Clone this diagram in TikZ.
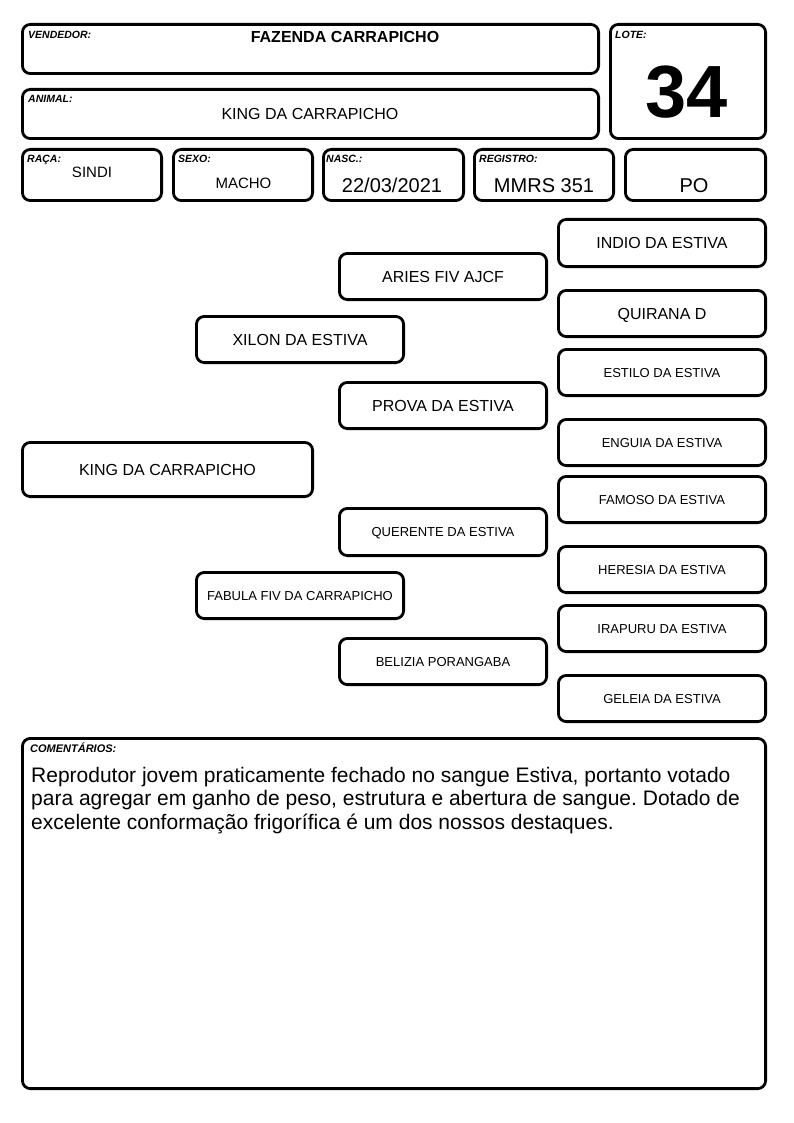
\documentclass[tikz,border=0pt]{standalone}
\usepackage{fontspec}
\setmainfont{Liberation Sans}
\frenchspacing
\newcommand\fsz[1]{\fontsize{#1}{#1}\selectfont}
\tikzset{
  frame/.style={draw, line width=2.8pt, rounded corners=8pt, inner sep=0pt, outer sep=0pt},
  lab/.style={font=\bfseries\itshape\fsz{10.5}, anchor=base west, inner sep=0pt},
  val/.style={anchor=base, inner sep=0pt},
  com/.style={anchor=base west, inner sep=0pt, font=\fsz{21}},
}
% \pedbox{name}{x1}{y1}{x2}{y2}{size}{text}
\newcommand\pedbox[7]{%
  \node[frame, minimum width={#4-#2-2.8}, minimum height={#5-#3-2.8},
        font=\fsz{#6}, text height={0.716*#6}, text depth=0pt]
        (#1) at ({(#2+#4)/2},{(#3+#5)/2}) {#7};}
\newcommand\hdbox[5]{%
  \node[frame, minimum width={#4-#2-2.8}, minimum height={#5-#3-2.8}]
        (#1) at ({(#2+#4)/2},{(#3+#5)/2}) {};}
\begin{document}
\begin{tikzpicture}[x=1pt,y=-1pt]
\useasboundingbox (0,0) rectangle (794,1123);
% header
\hdbox{vend}{21}{23}{600}{75}
\hdbox{anim}{21}{88}{600}{140}
\hdbox{lote}{609}{23}{767}{140}
\hdbox{raca}{21}{148}{163}{202}
\hdbox{sexo}{172}{148}{314}{202}
\hdbox{nasc}{322}{148}{465}{202}
\hdbox{reg}{473}{148}{615}{202}
\hdbox{po}{624}{148}{767}{202}
\node[lab] (lvend) at (28,39) {VENDEDOR:};
\node[val, font=\bfseries\fsz{16}] (tvend) at (345,43) {FAZENDA CARRAPICHO};
\node[lab] (lanim) at (28,103) {ANIMAL:};
\node[val, font=\fsz{16}] (tanim) at (310,120) {KING DA CARRAPICHO};
\node[lab] (llote) at (615,39) {LOTE:};
\node[val, font=\bfseries\fsz{74}] (tlote) at (687,118) {34};
\node[lab] (lraca) at (27,163) {RAÇA:};
\node[val, font=\fsz{15}] (traca) at (92,178) {SINDI};
\node[lab] (lsexo) at (178,163) {SEXO:};
\node[val, font=\fsz{15}] (tsexo) at (243.5,189) {MACHO};
\node[lab] (lnasc) at (326,163) {NASC.:};
\node[val, font=\fsz{20}] (tnasc) at (392,193) {22/03/2021};
\node[lab] (lreg) at (479,163) {REGISTRO:};
\node[val, font=\fsz{20}] (treg) at (544,193) {MMRS 351};
\node[val, font=\fsz{20}] (tpo) at (694,193) {PO};
% pedigree
\pedbox{king}{21}{441}{314}{498}{16}{KING DA CARRAPICHO}
\pedbox{xilon}{195}{315}{405}{364}{16}{XILON DA ESTIVA}
\pedbox{fabula}{195}{571}{405}{620}{13}{FABULA FIV DA CARRAPICHO}
\pedbox{aries}{338}{252}{548}{301}{16}{ARIES FIV AJCF}
\pedbox{prova}{338}{381}{548}{430}{16}{PROVA DA ESTIVA}
\pedbox{querente}{338}{507}{548}{557}{13}{QUERENTE DA ESTIVA}
\pedbox{belizia}{338}{637}{548}{686}{13}{BELIZIA PORANGABA}
\pedbox{indio}{557}{218}{767}{268}{16}{INDIO DA ESTIVA}
\pedbox{quirana}{557}{289}{767}{338}{16}{QUIRANA D}
\pedbox{estilo}{557}{348}{767}{397}{13}{ESTILO DA ESTIVA}
\pedbox{enguia}{557}{418}{767}{467}{13}{ENGUIA DA ESTIVA}
\pedbox{famoso}{557}{475}{767}{524}{13}{FAMOSO DA ESTIVA}
\pedbox{heresia}{557}{545}{767}{594}{13}{HERESIA DA ESTIVA}
\pedbox{irapuru}{557}{604}{767}{653}{13}{IRAPURU DA ESTIVA}
\pedbox{geleia}{557}{674}{767}{723}{13}{GELEIA DA ESTIVA}
% comments
\hdbox{coment}{21}{737}{767}{1090}
\node[lab, font=\bfseries\itshape\fsz{11}] (lcom) at (30,752) {COMENTÁRIOS:};
\node[com] (c1) at (31,782) {Reprodutor jovem praticamente fechado no sangue Estiva, portanto votado};
\node[com] (c2) at (31,805.5) {para agregar em ganho de peso, estrutura e abertura de sangue. Dotado de};
\node[com] (c3) at (31,829) {excelente conformação frigorífica é um dos nossos destaques.};
\end{tikzpicture}
\end{document}
